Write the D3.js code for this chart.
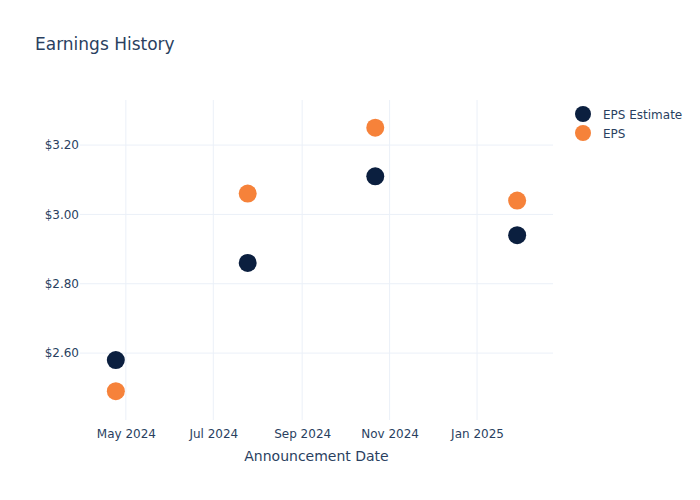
<!DOCTYPE html>
<html>
<head>
<meta charset="utf-8">
<script src="https://cdn.jsdelivr.net/npm/d3@7"></script>
<style>
  body { margin: 0; background: #fff; }
  svg { font-family: "DejaVu Sans", Verdana, sans-serif; }
</style>
</head>
<body>
<svg id="chart" width="700" height="500"></svg>
<script>
const dates = ["2024-04-24", "2024-07-25", "2024-10-22", "2025-01-29"];
const epsEstimate = [2.58, 2.86, 3.11, 2.94];
const eps = [2.49, 3.06, 3.25, 3.04];
const xTicks = ["2024-05-01", "2024-07-01", "2024-09-01", "2024-11-01", "2025-01-01"];
const yTicks = [2.6, 2.8, 3.0, 3.2];
const seriesNames = ["EPS Estimate", "EPS"];
const seriesColors = ["#0b1f3f", "#f6823a"];
const xDomain = ["2024-03-30", "2025-02-23"];
const yDomain = [2.407, 3.33];

const parse = d3.utcParse("%Y-%m-%d");
const svg = d3.select("#chart");
const W = 700, H = 500;
const m = { l: 80, r: 147, t: 100, b: 80 };

svg.append("rect").attr("width", W).attr("height", H).attr("fill", "#fff");

const x = d3.scaleUtc().domain(xDomain.map(parse)).range([m.l, W - m.r]);
const y = d3.scaleLinear().domain(yDomain).range([H - m.b, m.t]);

const textColor = "#2a3f5f";
const gridColor = "#ebf0f8";

// grid
const g = svg.append("g");
g.selectAll("line.vx").data(xTicks).join("line")
  .attr("x1", d => x(parse(d))).attr("x2", d => x(parse(d)))
  .attr("y1", m.t).attr("y2", H - m.b)
  .attr("stroke", gridColor).attr("stroke-width", 1);
g.selectAll("line.hy").data(yTicks).join("line")
  .attr("x1", m.l).attr("x2", W - m.r)
  .attr("y1", d => y(d)).attr("y2", d => y(d))
  .attr("stroke", gridColor).attr("stroke-width", 1);

// x axis
const xAxis = d3.axisBottom(x).tickValues(xTicks.map(parse))
  .tickFormat(d3.utcFormat("%b %Y")).tickSize(0).tickPadding(9);
const xg = svg.append("g").attr("transform", `translate(0,${H - m.b})`).call(xAxis);
xg.select(".domain").remove();
xg.selectAll("text").attr("fill", textColor).style("font-size", "12px")
  .style("font-family", "'DejaVu Sans', sans-serif");

// y axis
const yAxis = d3.axisLeft(y).tickValues(yTicks)
  .tickFormat(d => "$" + d3.format(".2f")(d)).tickSize(0).tickPadding(1);
const yg = svg.append("g").attr("transform", `translate(${m.l},0)`).call(yAxis);
yg.select(".domain").remove();
yg.selectAll("text").attr("fill", textColor).style("font-size", "12px")
  .style("font-family", "'DejaVu Sans', sans-serif");

// points
const series = [epsEstimate, eps];
series.forEach((vals, si) => {
  svg.append("g").selectAll("circle").data(vals).join("circle")
    .attr("cx", (d, i) => x(parse(dates[i])))
    .attr("cy", d => y(d))
    .attr("r", 9)
    .attr("fill", seriesColors[si]);
});

// title
svg.append("text").attr("x", 35).attr("y", 50)
  .attr("fill", textColor).style("font-size", "17px").text("Earnings History");

// axis title
svg.append("text").attr("x", (m.l + W - m.r) / 2).attr("y", 461)
  .attr("text-anchor", "middle").attr("fill", textColor)
  .style("font-size", "14px").text("Announcement Date");

// legend
const lg = svg.append("g");
seriesNames.forEach((name, i) => {
  const cy = 114 + i * 19;
  lg.append("circle").attr("cx", 583).attr("cy", cy).attr("r", 8).attr("fill", seriesColors[i]);
  lg.append("text").attr("x", 603).attr("y", cy + 4.5).attr("fill", textColor)
    .style("font-size", "12px").text(name);
});
</script>
</body>
</html>
